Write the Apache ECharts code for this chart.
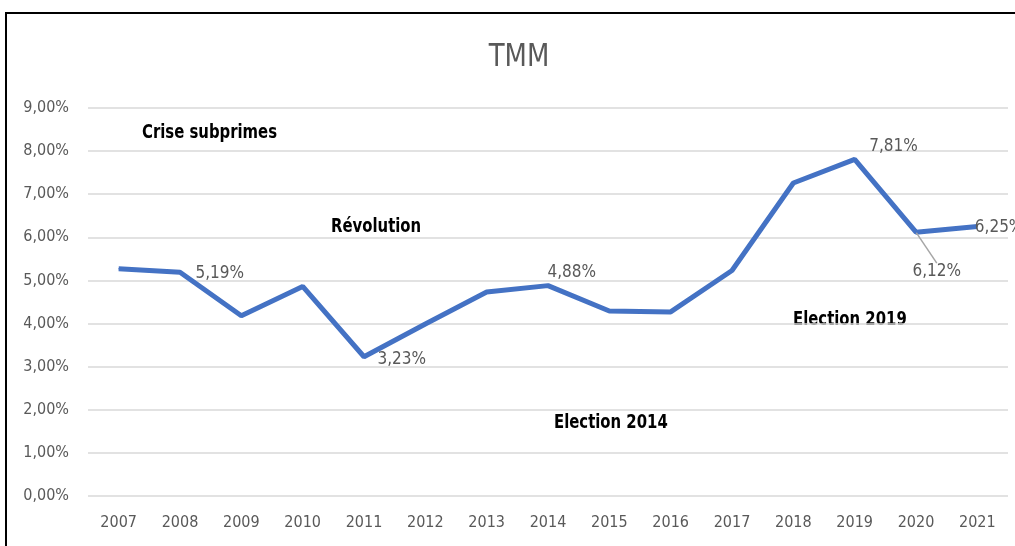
<!DOCTYPE html>
<html>
<head>
<meta charset="utf-8">
<style>
  html, body { margin: 0; padding: 0; background: #ffffff; }
  #chart { width: 1015px; height: 546px; }
</style>
<script src="https://cdn.jsdelivr.net/npm/echarts@6/dist/echarts.min.js"></script>
</head>
<body>
<div id="chart"></div>
<script>
// Years on the category axis
const years = ['2007', '2008', '2009', '2010', '2011', '2012', '2013', '2014',
               '2015', '2016', '2017', '2018', '2019', '2020', '2021'];

// TMM (taux moyen du marché monétaire), in percent
const tmm = [5.27, 5.19, 4.18, 4.86, 3.23, 3.99, 4.73, 4.88,
             4.29, 4.27, 5.23, 7.26, 7.81, 6.12, 6.25];

// Event annotations written on the plot
const events = ['Crise subprimes', 'Révolution', 'Election 2014', 'Election 2019'];

const chartTitle = 'TMM';

const fmtPct = v => v.toFixed(2).replace('.', ',') + '%';

const condensed = "'DejaVu Sans Condensed', 'DejaVu Sans', sans-serif";

// Per-point value labels (only some years carry a label)
const labelled = {
  1:  { position: [16, 2] },
  4:  { position: [14, 3] },
  7:  { position: [0, -13] },
  12: { position: [15, -12] },
  13: { position: [-3, 40], guide: true },
  14: { position: [-2, 2] }
};

const seriesData = tmm.map((v, i) => {
  const cfg = labelled[i];
  if (!cfg) return { value: v };
  const item = {
    value: v,
    label: {
      show: true,
      position: cfg.position,
      align: 'left',
      verticalAlign: 'middle',
      formatter: p => fmtPct(p.value),
      color: '#595959',
      fontSize: 17,
      fontFamily: condensed
    }
  };
  if (cfg.guide) {
    item.labelLine = { show: true, lineStyle: { color: '#a6a6a6', width: 1.5 } };
  }
  return item;
});

// Bold event note, drawn slightly narrowed
const note = (text, x, y) => ({
  type: 'text',
  x: x,
  y: y,
  scaleX: 0.87,
  silent: true,
  style: {
    text: text,
    fill: '#000000',
    font: 'bold 19px ' + condensed,
    textAlign: 'left',
    textVerticalAlign: 'middle'
  }
});

const chart = echarts.init(document.getElementById('chart'), null, { renderer: 'canvas' });

chart.setOption({
  backgroundColor: '#ffffff',
  animation: false,
  grid: { left: 88, right: 7, top: 108, bottom: 50, containLabel: false },
  xAxis: {
    type: 'category',
    data: years,
    boundaryGap: true,
    axisLine: { show: false },
    axisTick: { show: false },
    axisLabel: {
      color: '#595959',
      fontSize: 16,
      fontFamily: condensed,
      margin: 19
    }
  },
  yAxis: {
    type: 'value',
    min: 0,
    max: 9,
    interval: 1,
    axisLine: { show: false },
    axisTick: { show: false },
    splitLine: { lineStyle: { color: '#d9d9d9', width: 1.5 } },
    axisLabel: {
      color: '#595959',
      fontSize: 16,
      fontFamily: condensed,
      margin: 19,
      formatter: v => fmtPct(v)
    }
  },
  series: [{
    type: 'line',
    data: seriesData,
    symbol: 'circle',
    symbolSize: 1,
    showSymbol: true,
    itemStyle: { color: '#4472C4' },
    lineStyle: { color: '#4472C4', width: 5 },
    label: { show: false }
  }],
  graphic: [
    {
      type: 'rect',
      shape: { x: 6, y: 13, width: 1200, height: 700 },
      style: { fill: 'none', stroke: '#000000', lineWidth: 2 },
      silent: true
    },
    {
      type: 'text',
      x: 519,
      y: 58,
      scaleX: 0.9,
      silent: true,
      style: {
        text: chartTitle,
        fill: '#595959',
        font: '32px ' + condensed,
        textAlign: 'center',
        textVerticalAlign: 'middle'
      }
    },
    note(events[0], 142, 133),
    note(events[1], 331, 227),
    note(events[2], 554, 423),
    note(events[3], 793, 320)
  ]
});
</script>
</body>
</html>
